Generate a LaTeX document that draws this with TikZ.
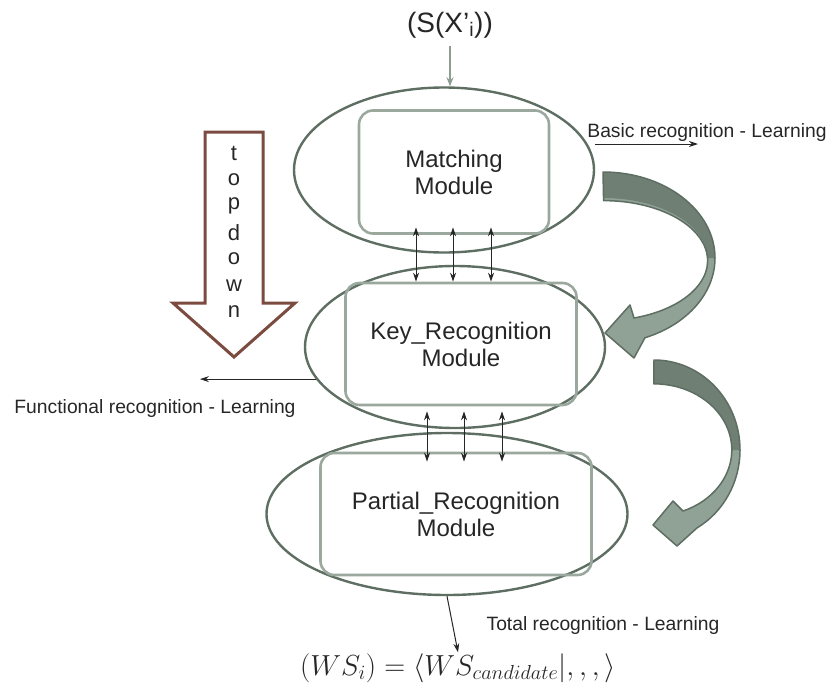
\RequirePackage{fix-cm}
\documentclass[tikz,border=0pt]{standalone}
\usepackage{fontspec}
\setmainfont{Liberation Sans}
\usepackage{tikz}
\usetikzlibrary{shapes.geometric, arrows.meta, positioning}
\definecolor{bordeOvalo}{HTML}{5E6E62}
\definecolor{bordeModulo}{HTML}{9AA89D}
\definecolor{grisFlecha}{HTML}{8E9C91}
\definecolor{verdeOscuro}{HTML}{6F7F73}
\definecolor{verdeClaro}{HTML}{8FA295}
\definecolor{marron}{HTML}{7B4B40}
\definecolor{texto}{HTML}{262626}

\begin{document}
\begin{tikzpicture}[
    x=1pt, y=-1pt,
    ovalo/.style={ellipse, draw=bordeOvalo, line width=2.4pt, inner sep=0pt},
    modulo/.style={rectangle, draw=bordeModulo, line width=2.6pt, rounded corners=14pt, align=center, font=\fontsize{24}{27}\selectfont, text=texto},
    etiqueta/.style={font=\fontsize{19.3}{22}\selectfont, text=texto, inner sep=0pt},
    letra/.style={font=\fontsize{22}{24}\selectfont, text=texto, inner sep=0pt},
    flecha/.style={-{Stealth[length=9pt, width=6pt]}, line width=1pt, texto},
    doble/.style={{Stealth[length=9pt, width=6pt]}-{Stealth[length=9pt, width=6pt]}, line width=1pt, texto},
    flechagris/.style={-{Stealth[length=9pt, width=7pt]}, line width=1.3pt, grisFlecha},
    contorno/.style={draw=bordeOvalo, line width=1.5pt, line join=round}
]
    \useasboundingbox (0,0) rectangle (830,686);

    % ovals and modules
    \node[ovalo, minimum width=300pt, minimum height=165pt] (o1) at (444,170) {};
    \node[ovalo, minimum width=300pt, minimum height=162pt] (o2) at (455,347) {};
    \node[ovalo, minimum width=361pt, minimum height=162pt] (o3) at (447,514) {};

    \node[modulo, minimum width=190pt, minimum height=123pt] (m1) at (454,172) {Matching\\Module};
    \node[modulo, minimum width=231pt, minimum height=122pt] (m2) at (461,344) {Key\_Recognition\\Module};
    \node[modulo, minimum width=271pt, minimum height=122pt] (m3) at (456,514) {Partial\_Recognition\\Module};

    \foreach \x in {416,453,491}
        \draw[doble] ([yshift=7.5pt]m1.south -| \x,0) -- (m2.north -| \x,0);
    \foreach \x in {427,464,502}
        \draw[doble] ([yshift=-5pt]m2.south -| \x,0) -- ([yshift=-10pt]m3.north -| \x,0);

    % input and output
    \node[font=\fontsize{28}{30}\selectfont, text=texto, inner sep=0pt] (entrada) at (450,25) {(S(X’\textsubscript{i}))};
    \draw[flechagris] ([yshift=-8pt]entrada.south) -- (entrada.south |- o1.north);

    \node[inner sep=0pt, text=texto, font=\fontsize{29}{31}\selectfont] (salida) at (458,668) {$(WS_i) = \langle WS_{candidate}|,,,\rangle$};
    \draw[flecha] (o3.south) -- ([yshift=1pt]salida.north);

    % learning labels
    \node[etiqueta] (basico) at (707,133) {Basic recognition - Learning};
    \coordinate (b0) at (595,144);
    \coordinate (b1) at (698,144);
    \draw[flecha] (b0) -- (b1);

    \node[etiqueta] (funcional) at (155,409) {Functional recognition - Learning};
    \coordinate (f1) at (200,378);
    \draw[flecha] (o2.193) -- (o2.193 -| f1);

    \node[etiqueta] (total) at (603,625) {Total recognition - Learning};

    % topdown arrow
    \draw[marron, line width=3pt, fill=white, line join=miter]
        (205,132) -- (263,132) -- (263,303) -- (295,303) -- (234,357) -- (173,303) -- (205,303) -- cycle;
    \foreach \l [count=\i] in {t,o,p,d,o,w,n}
        \node[letra] (l\i) at (234,{153+26.5*(\i-1)}) {\l};

    % curved arrow, first
    \fill[verdeClaro] (603,172) arc[start angle=-90, end angle=68, x radius=112, y radius=86]
        -- (634,358) -- (605,333) -- (630,305) -- (634,318)
        arc[start angle=73, end angle=-90, x radius=104, y radius=60] -- cycle;
    \fill[verdeOscuro] (603,172) arc[start angle=-90, end angle=0, x radius=112, y radius=86]
        -- (707,258) arc[start angle=0, end angle=-90, x radius=104, y radius=60] -- cycle;
    \draw[contorno] (603,172) arc[start angle=-90, end angle=68, x radius=112, y radius=86]
        -- (634,358) -- (605,333) -- (630,305) -- (634,318)
        arc[start angle=73, end angle=-90, x radius=104, y radius=60] -- cycle;

    % curved arrow, second
    \fill[verdeClaro] (654,360) arc[start angle=-90, end angle=60, x radius=86, y radius=90]
        -- (677,546) -- (653,525) -- (673,501) -- (683,511)
        arc[start angle=68, end angle=-90, x radius=78, y radius=66] -- cycle;
    \fill[verdeOscuro] (654,360) arc[start angle=-90, end angle=0, x radius=86, y radius=90]
        -- (732,450) arc[start angle=0, end angle=-90, x radius=78, y radius=66] -- cycle;
    \draw[contorno] (654,360) arc[start angle=-90, end angle=60, x radius=86, y radius=90]
        -- (677,546) -- (653,525) -- (673,501) -- (683,511)
        arc[start angle=68, end angle=-90, x radius=78, y radius=66] -- cycle;
\end{tikzpicture}
\end{document}
